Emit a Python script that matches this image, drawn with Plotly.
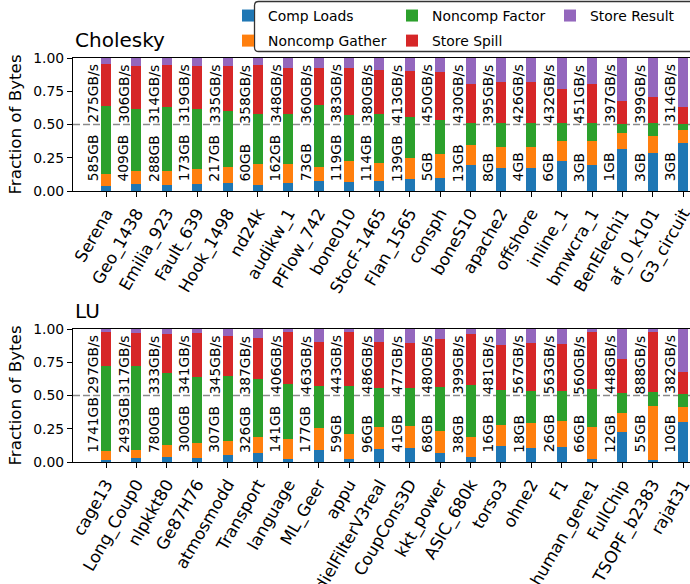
import plotly.graph_objects as go

# ---------------- data ----------------
series_names = ["Comp Loads", "Noncomp Gather", "Noncomp Factor", "Store Spill", "Store Result"]
series_colors = ["#1f77b4", "#ff7f0e", "#2ca02c", "#d62728", "#9467bd"]

chol_matrices = ["Serena", "Geo_1438", "Emilia_923", "Fault_639", "Hook_1498", "nd24k",
                 "audikw_1", "PFlow_742", "bone010", "StocF-1465", "Flan_1565", "consph",
                 "boneS10", "apache2", "offshore", "inline_1", "bmwcra_1", "BenElechi1",
                 "af_0_k101", "G3_circuit"]
chol_comp_loads     = [.038, .053, .043, .053, .060, .045, .060, .073, .065, .073, .088, .095, .193, .173, .173, .223, .193, .313, .283, .358]
chol_noncomp_gather = [.088, .095, .105, .110, .118, .158, .143, .105, .158, .135, .157, .180, .150, .155, .155, .150, .180, .120, .127, .097]
chol_noncomp_factor = [.510, .472, .480, .450, .420, .375, .375, .465, .345, .370, .308, .258, .172, .187, .187, .135, .135, .070, .098, .048]
chol_store_spill    = [.322, .323, .322, .330, .340, .372, .350, .280, .355, .335, .352, .365, .288, .308, .308, .262, .295, .177, .202, .132]
chol_store_result   = [.042, .057, .050, .057, .062, .050, .072, .077, .077, .087, .095, .102, .197, .177, .177, .230, .197, .320, .290, .365]
chol_size_gb = [585, 409, 288, 173, 217, 60, 162, 73, 119, 114, 139, 5, 13, 8, 4, 6, 3, 1, 3, 3]
chol_bw_gbs  = [275, 306, 314, 319, 335, 358, 348, 360, 383, 380, 413, 450, 430, 395, 426, 432, 451, 397, 399, 314]

lu_matrices = ["cage13", "Long_Coup0", "nlpkkt80", "Ge87H76", "atmosmodd", "Transport",
               "language", "ML_Geer", "appu", "dielFilterV3real", "CoupCons3D", "kkt_power",
               "ASIC_680k", "torso3", "ohne2", "F1", "human_gene1", "FullChip",
               "TSOPF_b2383", "rajat31"]
lu_comp_loads     = [.013, .028, .035, .028, .050, .065, .020, .088, .020, .095, .103, .065, .035, .118, .103, .111, .020, .224, .013, .299]
lu_noncomp_gather = [.067, .060, .091, .113, .106, .121, .151, .166, .189, .166, .166, .166, .151, .158, .188, .196, .241, .143, .407, .113]
lu_noncomp_factor = [.641, .633, .542, .497, .490, .437, .414, .316, .361, .294, .286, .332, .392, .264, .242, .226, .287, .151, .105, .098]
lu_store_spill    = [.256, .249, .294, .332, .301, .309, .392, .332, .407, .347, .339, .362, .384, .339, .361, .354, .429, .256, .452, .170]
lu_store_result   = [.023, .030, .038, .030, .053, .068, .023, .098, .023, .098, .106, .075, .038, .121, .106, .113, .023, .226, .023, .320]
lu_size_gb = [1741, 2493, 780, 300, 307, 326, 141, 177, 59, 96, 41, 68, 38, 16, 18, 26, 66, 12, 55, 10]
lu_bw_gbs  = [297, 317, 333, 341, 345, 387, 406, 463, 443, 486, 477, 480, 399, 481, 567, 563, 560, 448, 888, 382]

y_ticks = [0, 0.25, 0.5, 0.75, 1.0]

# ---------------- layout geometry ----------------
W, H = 690, 584
ML, MR, MT, MB = 73, 0, 58, 122
PW = W - ML - MR
PH = H - MT - MB
top_dom = [(462 - 191) / PH, 1.0]
bot_dom = [0.0, (462 - 329) / PH]
X_RANGE = [-1.09, -1.09 + PW / 30.37]
FONT = "DejaVu Sans"


def px2paper(px, py):
    return (px - ML) / PW, (462 - py) / PH


fig = go.Figure()

panels = [
    ("x", "y", chol_matrices,
     [chol_comp_loads, chol_noncomp_gather, chol_noncomp_factor, chol_store_spill, chol_store_result],
     chol_size_gb, chol_bw_gbs, True),
    ("x2", "y2", lu_matrices,
     [lu_comp_loads, lu_noncomp_gather, lu_noncomp_factor, lu_store_spill, lu_store_result],
     lu_size_gb, lu_bw_gbs, False),
]

legend_of = ["legend", "legend", "legend2", "legend2", "legend3"]

annotations = []
shapes = []
for xa, ya, cats, vals, sizes, bws, show in panels:
    xs = list(range(len(cats)))
    for k, (name, col, v) in enumerate(zip(series_names, series_colors, vals)):
        fig.add_trace(go.Bar(
            x=xs, y=v, width=0.33, name=name,
            marker=dict(color=col, line=dict(width=0)),
            xaxis=xa, yaxis=ya, showlegend=show,
            legend=legend_of[k], legendgroup=name,
        ))
    for i in xs:
        annotations.append(dict(
            x=i - 0.43, y=0.055, xref=xa, yref=ya, text=f"{sizes[i]}GB",
            textangle=-90, showarrow=False, xanchor="center", yanchor="bottom",
            font=dict(size=13.9, color="black", family=FONT)))
        annotations.append(dict(
            x=i - 0.43, y=0.968, xref=xa, yref=ya, text=f"{bws[i]}GB/s",
            textangle=-90, showarrow=False, xanchor="center", yanchor="top",
            font=dict(size=13.9, color="black", family=FONT)))
    shapes.append(dict(type="line", xref="paper", yref=ya, x0=0, x1=1, y0=0.5, y1=0.5,
                       line=dict(color="#8a8a8a", width=1.4, dash="7px,3px"), layer="below"))

annotations.append(dict(x=0, y=1, xref="paper", yref="y domain", text="Cholesky",
                        showarrow=False, xanchor="left", yanchor="bottom", yshift=4,
                        font=dict(size=20, color="black", family=FONT)))
annotations.append(dict(x=0, y=1, xref="paper", yref="y2 domain", text="LU",
                        showarrow=False, xanchor="left", yanchor="bottom", yshift=4,
                        font=dict(size=20, color="black", family=FONT)))

# legend frame (rounded box, extends past the right edge)
r = 4
x0p, x1p, y0p, y1p = 254.5, 700, 1.5, 51.5


def P(px, py):
    a, b = px2paper(px, py)
    return f"{a:.5f},{b:.5f}"


path = (f"M{P(x0p + r, y0p)} L{P(x1p, y0p)} L{P(x1p, y1p)} L{P(x0p + r, y1p)} "
        f"Q{P(x0p, y1p)} {P(x0p, y1p - r)} L{P(x0p, y0p + r)} Q{P(x0p, y0p)} {P(x0p + r, y0p)} Z")
shapes.append(dict(type="path", xref="paper", yref="paper", path=path,
                   line=dict(color="#333333", width=1.3), fillcolor="rgba(0,0,0,0)", layer="above"))

axis_common = dict(showline=True, linecolor="black", linewidth=1, showgrid=False, zeroline=False,
                   ticks="outside", ticklen=5, tickwidth=1, tickcolor="black", automargin=False)

leg_common = dict(bgcolor="rgba(0,0,0,0)", borderwidth=0, font=dict(size=13.9, color="black", family=FONT),
                  xanchor="left", yanchor="top", tracegroupgap=4, itemwidth=30, orientation="v")


def legx(px):
    return px2paper(px, 0)[0]


leg_y = px2paper(0, 0)[1]

fig.update_layout(
    width=W, height=H, autosize=False,
    margin=dict(l=ML, r=MR, t=MT, b=MB, pad=0, autoexpand=False),
    barmode="stack", bargap=0,
    plot_bgcolor="white", paper_bgcolor="white",
    font=dict(family=FONT, color="black"),
    xaxis=dict(domain=[0, 1], anchor="y", range=X_RANGE, tickvals=list(range(len(chol_matrices))),
               ticktext=chol_matrices, tickangle=-60, mirror=True, ticklabeloverflow="allow",
               tickfont=dict(size=16.7, family=FONT, color="black"), **axis_common),
    yaxis=dict(domain=top_dom, anchor="x", range=[0, 1], tickvals=y_ticks, tickformat=".2f",
               mirror=False, tickfont=dict(size=13.9, family=FONT, color="black"),
               title=dict(text="Fraction of Bytes", font=dict(size=16.7, family=FONT, color="black"), standoff=7),
               **axis_common),
    xaxis2=dict(domain=[0, 1], anchor="y2", range=X_RANGE, tickvals=list(range(len(lu_matrices))),
                ticktext=lu_matrices, tickangle=-60, mirror=True, ticklabeloverflow="allow",
                tickfont=dict(size=16.7, family=FONT, color="black"), **axis_common),
    yaxis2=dict(domain=bot_dom, anchor="x2", range=[0, 1], tickvals=y_ticks, tickformat=".2f",
                mirror=False, tickfont=dict(size=13.9, family=FONT, color="black"),
                title=dict(text="Fraction of Bytes", font=dict(size=16.7, family=FONT, color="black"), standoff=7),
                **axis_common),
    legend=dict(x=legx(268 - 40), y=leg_y, **leg_common),
    legend2=dict(x=legx(432 - 40), y=leg_y, **leg_common),
    legend3=dict(x=legx(590 - 40), y=leg_y, **leg_common),
    annotations=annotations,
    shapes=shapes,
)

fig.write_html("out.html", config={"displayModeBar": False},
               post_script="document.body.style.margin='0px';document.body.style.padding='0px';")
